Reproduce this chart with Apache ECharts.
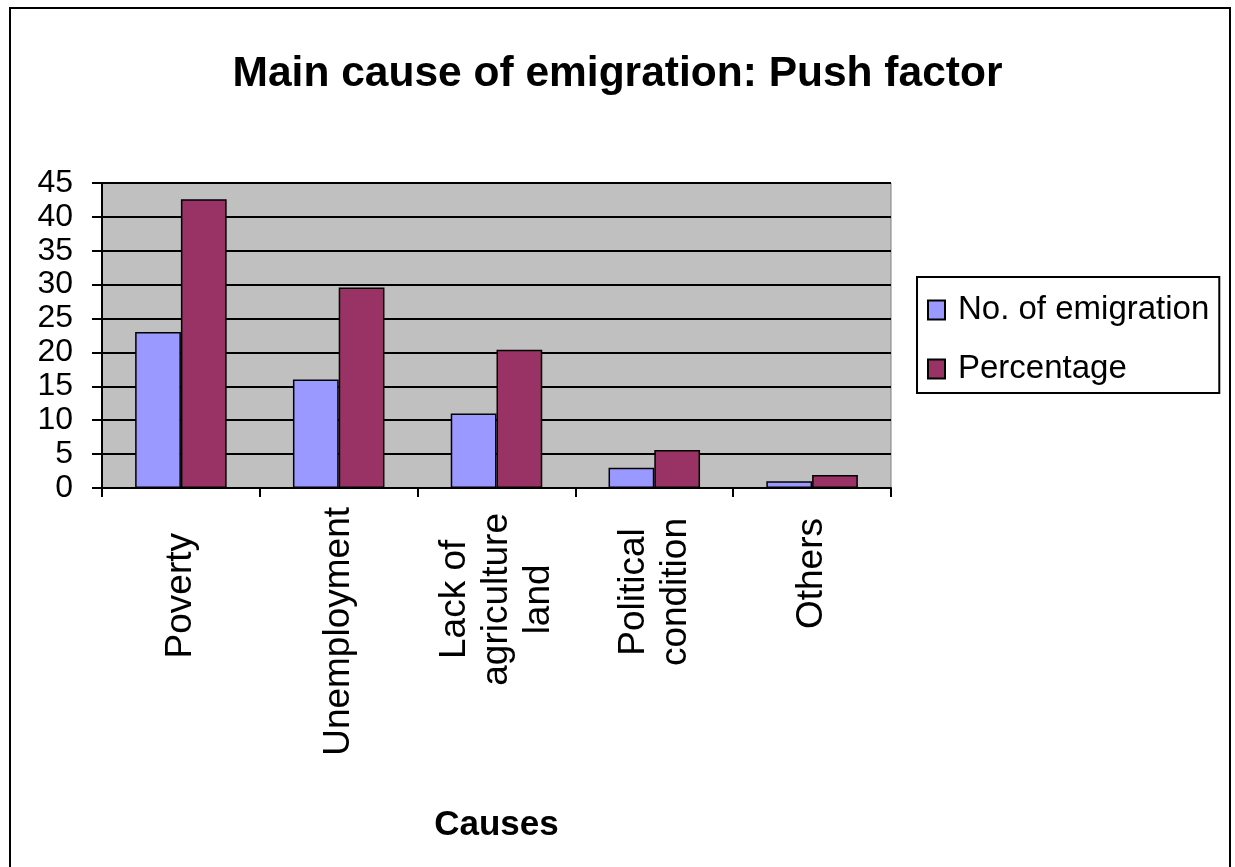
<!DOCTYPE html>
<html>
<head>
<meta charset="utf-8">
<script src="https://cdn.jsdelivr.net/npm/echarts@6/dist/echarts.min.js"></script>
<style>
html,body{margin:0;padding:0;background:#fff;}
#chart{width:1235px;height:867px;}
</style>
</head>
<body>
<div id="chart"></div>
<script>
var categories = ['Poverty', 'Unemployment', 'Lack of\nagriculture\nland', 'Political\ncondition', 'Others'];
var emigrationCounts = [23, 16, 11, 3, 1];
var percentages = [42.6, 29.6, 20.4, 5.6, 1.9];
var yTicks = [0, 5, 10, 15, 20, 25, 30, 35, 40, 45];

// label offsets away from the axis (style only)
var labelShift = [26, 0, 6, 11, 11];

var chart = echarts.init(document.getElementById('chart'));
var FONT = 'Liberation Sans, Arial, sans-serif';
var rich = {};
labelShift.forEach(function (s, i) {
  rich['c' + i] = { align: 'center', fontFamily: FONT, fontSize: 37, lineHeight: 42, color: '#000', padding: [0, s, 0, 0] };
});
chart.setOption({
  animation: false,
  backgroundColor: '#ffffff',
  textStyle: { fontFamily: FONT },
  graphic: [{
    type: 'rect',
    shape: { x: 10, y: 8, width: 1220, height: 880 },
    style: { fill: 'none', stroke: '#000', lineWidth: 2 },
    z: -1
  }],
  title: {
    text: 'Main cause of emigration: Push factor',
    left: 'center',
    top: 44,
    textStyle: { fontFamily: FONT, fontSize: 42.5, fontWeight: 'bold', color: '#000', lineHeight: 50 }
  },
  legend: {
    orient: 'vertical',
    left: 917,
    top: 277,
    padding: [14, 10, 5, 10],
    itemGap: 21,
    itemWidth: 17,
    itemHeight: 19,
    icon: 'rect',
    borderColor: '#000',
    borderWidth: 2,
    backgroundColor: '#fff',
    textStyle: { fontFamily: FONT, fontSize: 33, color: '#000', lineHeight: 38, padding: [0, 0, 0, 8] },
    data: ['No. of emigration', 'Percentage']
  },
  grid: {
    left: 102, right: 344, top: 183, bottom: 379,
    show: true, backgroundColor: '#C0C0C0', borderColor: '#808080', borderWidth: 1
  },
  xAxis: {
    type: 'category',
    data: categories,
    name: 'Causes',
    nameLocation: 'middle',
    nameGap: 320,
    nameTextStyle: { fontFamily: FONT, fontSize: 35, fontWeight: 'bold', color: '#000' },
    axisLine: { lineStyle: { color: '#000', width: 2 } },
    axisTick: { show: true, alignWithLabel: false, length: 9, lineStyle: { color: '#000', width: 2 } },
    axisLabel: {
      rotate: 90,
      margin: 19,
      interval: 0,
      formatter: function (v, idx) {
        return v.split('\n').map(function (s) { return '{c' + idx + '|' + s + '}'; }).join('\n');
      },
      rich: rich
    }
  },
  yAxis: {
    type: 'value',
    min: 0, max: 45, interval: 5,
    axisLine: { show: true, lineStyle: { color: '#000', width: 2 } },
    axisTick: { show: true, length: 10, lineStyle: { color: '#000', width: 2 } },
    axisLabel: {
      margin: 29, fontFamily: FONT, fontSize: 32, color: '#000',
      formatter: function (v) { return yTicks.indexOf(v) >= 0 ? String(v) : ''; }
    },
    splitLine: { show: true, lineStyle: { color: '#000', width: 2 } }
  },
  series: [{
    name: 'No. of emigration',
    type: 'bar',
    data: emigrationCounts,
    barGap: '0%',
    barCategoryGap: '42%',
    itemStyle: { color: '#9999FF', borderColor: '#000', borderWidth: 1.5 }
  }, {
    name: 'Percentage',
    type: 'bar',
    data: percentages,
    itemStyle: { color: '#993366', borderColor: '#000', borderWidth: 1.5 }
  }]
});
</script>
</body>
</html>
